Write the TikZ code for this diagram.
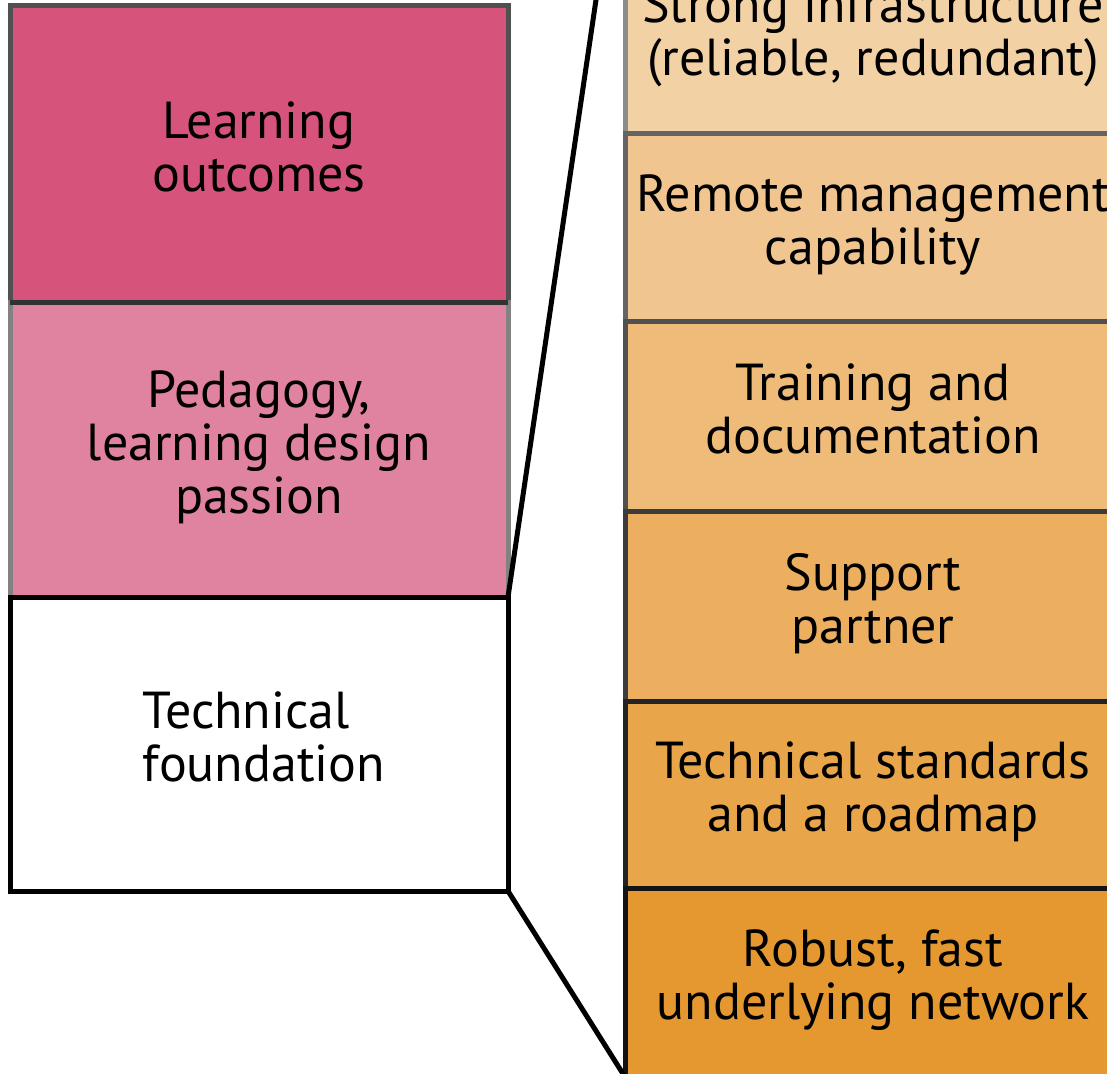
\documentclass[tikz,border=0pt]{standalone}
\usepackage{fontspec}
\setmainfont{PT Sans}
\definecolor{outcomesfill}{RGB}{214,83,124}
\definecolor{pedagogyfill}{RGB}{224,131,160}
\definecolor{infrafill}{RGB}{242,209,165}
\definecolor{remotefill}{RGB}{240,197,143}
\definecolor{trainingfill}{RGB}{239,187,120}
\definecolor{supportfill}{RGB}{236,175,95}
\definecolor{standardsfill}{RGB}{233,165,74}
\definecolor{networkfill}{RGB}{229,151,48}
\definecolor{gray1}{RGB}{140,140,140}
\definecolor{gray2}{RGB}{100,100,100}
\definecolor{gray3}{RGB}{80,80,80}
\definecolor{gray4}{RGB}{60,60,60}
\definecolor{gray5}{RGB}{35,35,35}
\definecolor{gray6}{RGB}{20,20,20}
\definecolor{pedagogyedge}{RGB}{130,130,130}
\definecolor{seamline}{RGB}{50,50,50}
% multi-line layer captions, centred or flush left
\newcommand\layertext[1]{\begin{tabular}{@{}c@{}}#1\end{tabular}}
\newcommand\layertextleft[1]{\begin{tabular}{@{\hspace{10pt}}l@{}}#1\end{tabular}}
\begin{document}
\begin{tikzpicture}[x=1pt,y=-1pt,
  layer/.style={rectangle, outer sep=0pt, inner sep=0pt, line width=5pt,
    font=\fontsize{52}{53}\selectfont},
  leftbox/.style={layer, minimum width=498pt},
  rightbox/.style={layer, minimum width=496pt},
  zoomline/.style={line width=5pt, black}]
\useasboundingbox (0,0) rectangle (1107,1073);
\clip (0,0) rectangle (1107,1073);

% left stack
\node[leftbox, minimum height=296pt, fill=outcomesfill, draw=gray3]
  (outcomes) at (259,154) {\layertext{Learning\\outcomes}};
\node[leftbox, minimum height=295pt, fill=pedagogyfill, draw=pedagogyedge]
  (pedagogy) at (259,449.5) {\layertext{Pedagogy,\\learning design\\passion}};
\draw[line width=5pt, seamline] (outcomes.south west) -- (outcomes.south east);
\node[leftbox, minimum height=294pt, fill=white, draw=black]
  (foundation) at (259,744) {\layertextleft{Technical\\foundation}};

% right stack
\node[rightbox, minimum height=189pt, fill=infrafill, draw=gray1]
  (infra) at (873,38.5) {\layertext{Strong infrastructure\\(reliable, redundant)}};
\node[rightbox, minimum height=188pt, fill=remotefill, draw=gray2]
  (remote) at (873,227) {\layertext{Remote management\\capability}};
\node[rightbox, minimum height=190pt, fill=trainingfill, draw=gray3]
  (training) at (873,416) {\layertext{Training and\\documentation}};
\node[rightbox, minimum height=190pt, fill=supportfill, draw=gray4]
  (support) at (873,606) {\layertext{Support\\partner}};
\node[rightbox, minimum height=187pt, fill=standardsfill, draw=gray5]
  (standards) at (873,794.5) {\layertext{Technical standards\\and a roadmap}};
\node[rightbox, minimum height=189pt, fill=networkfill, draw=gray6]
  (network) at (873,982.5) {\layertext{Robust, fast\\underlying network}};

% zoom connectors from the foundation layer to the detailed stack
\coordinate (zoomtop) at (625,-197);
\draw[zoomline] (foundation.north east) -- (zoomtop);
\draw[zoomline] (foundation.south east) -- (network.south west);
\end{tikzpicture}
\end{document}
